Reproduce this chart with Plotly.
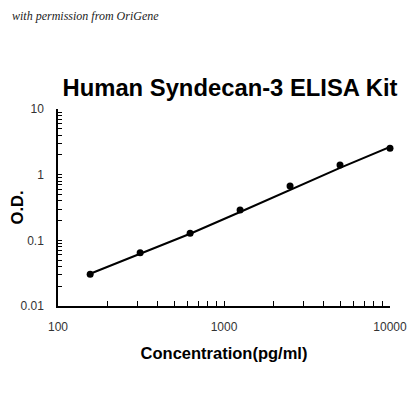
import plotly.graph_objects as go

conc = [156.25, 312.5, 625, 1250, 2500, 5000, 10000]
od = [0.0304, 0.0648, 0.128, 0.29, 0.672, 1.40, 2.52]
fit_x = [156.25, 312.5, 625, 1250, 2500, 5000, 10000]
fit_y = [0.031, 0.062, 0.126, 0.27, 0.59, 1.27, 2.65]

x_major = [100, 1000, 10000]
x_major_text = ["100", "1000", "10000"]
y_major = [0.01, 0.1, 1, 10]
y_major_text = ["0.01", "0.1", "1", "10"]

def log_ticks(majors, labels):
    vals, texts = [], []
    for i, m in enumerate(majors):
        vals.append(m); texts.append(labels[i])
        if i < len(majors) - 1:
            for k in range(2, 10):
                vals.append(m * k); texts.append("")
    return vals, texts

xv, xt = log_ticks(x_major, x_major_text)
yv, yt = log_ticks(y_major, y_major_text)

fig = go.Figure()
fig.add_trace(go.Scatter(x=fit_x, y=fit_y, mode="lines",
                         line=dict(color="black", width=2), showlegend=False,
                         cliponaxis=False))
fig.add_trace(go.Scatter(x=conc, y=od, mode="markers",
                         marker=dict(color="black", size=7), showlegend=False,
                         cliponaxis=False))

# page body has an 8px default margin, so the figure is placed 8px right/down
fig.update_layout(
    width=420, height=420,
    margin=dict(l=50, r=38, t=101, b=122, autoexpand=False),
    paper_bgcolor="white", plot_bgcolor="white",
    font=dict(family="Arial, Liberation Sans", color="#222"),
    title=dict(text="<b>Human Syndecan-3 ELISA Kit</b>", x=222 / 420, xanchor="center",
               xref="container", yref="container", y=1 - 80 / 420, yanchor="middle",
               font=dict(size=23.8, color="black", family="Arial, Liberation Sans")),
)
fig.update_xaxes(type="log", range=[2, 4], tickmode="array", tickvals=xv, ticktext=xt,
                 ticks="inside", ticklen=5, tickcolor="black", showline=True,
                 linecolor="black", linewidth=1.5, showgrid=False, zeroline=False,
                 automargin=False, ticklabelstandoff=9,
                 tickfont=dict(size=12, color="#333"),
                 title=dict(text="<b>Concentration(pg/ml)</b>", standoff=14,
                            font=dict(size=16.5, color="black")))
fig.update_yaxes(type="log", range=[-2, 1], tickmode="array", tickvals=yv, ticktext=yt,
                 ticks="inside", ticklen=4, tickcolor="black", showline=True,
                 linecolor="black", linewidth=1.5, showgrid=False, zeroline=False,
                 automargin=False, ticklabelstandoff=10,
                 tickfont=dict(size=12, color="#333"),
                 title=dict(text="<b>O.D.</b>", standoff=8,
                            font=dict(size=16.5, color="black")))

fig.add_annotation(text="<i>with permission from OriGene</i>", xref="paper", yref="paper",
                   x=-48 / 332, y=1 + (109 - 16) / 197, xanchor="left", yanchor="middle",
                   showarrow=False,
                   font=dict(family="Liberation Serif, DejaVu Serif", size=12, color="#222"))

fig.write_html("out.html")
